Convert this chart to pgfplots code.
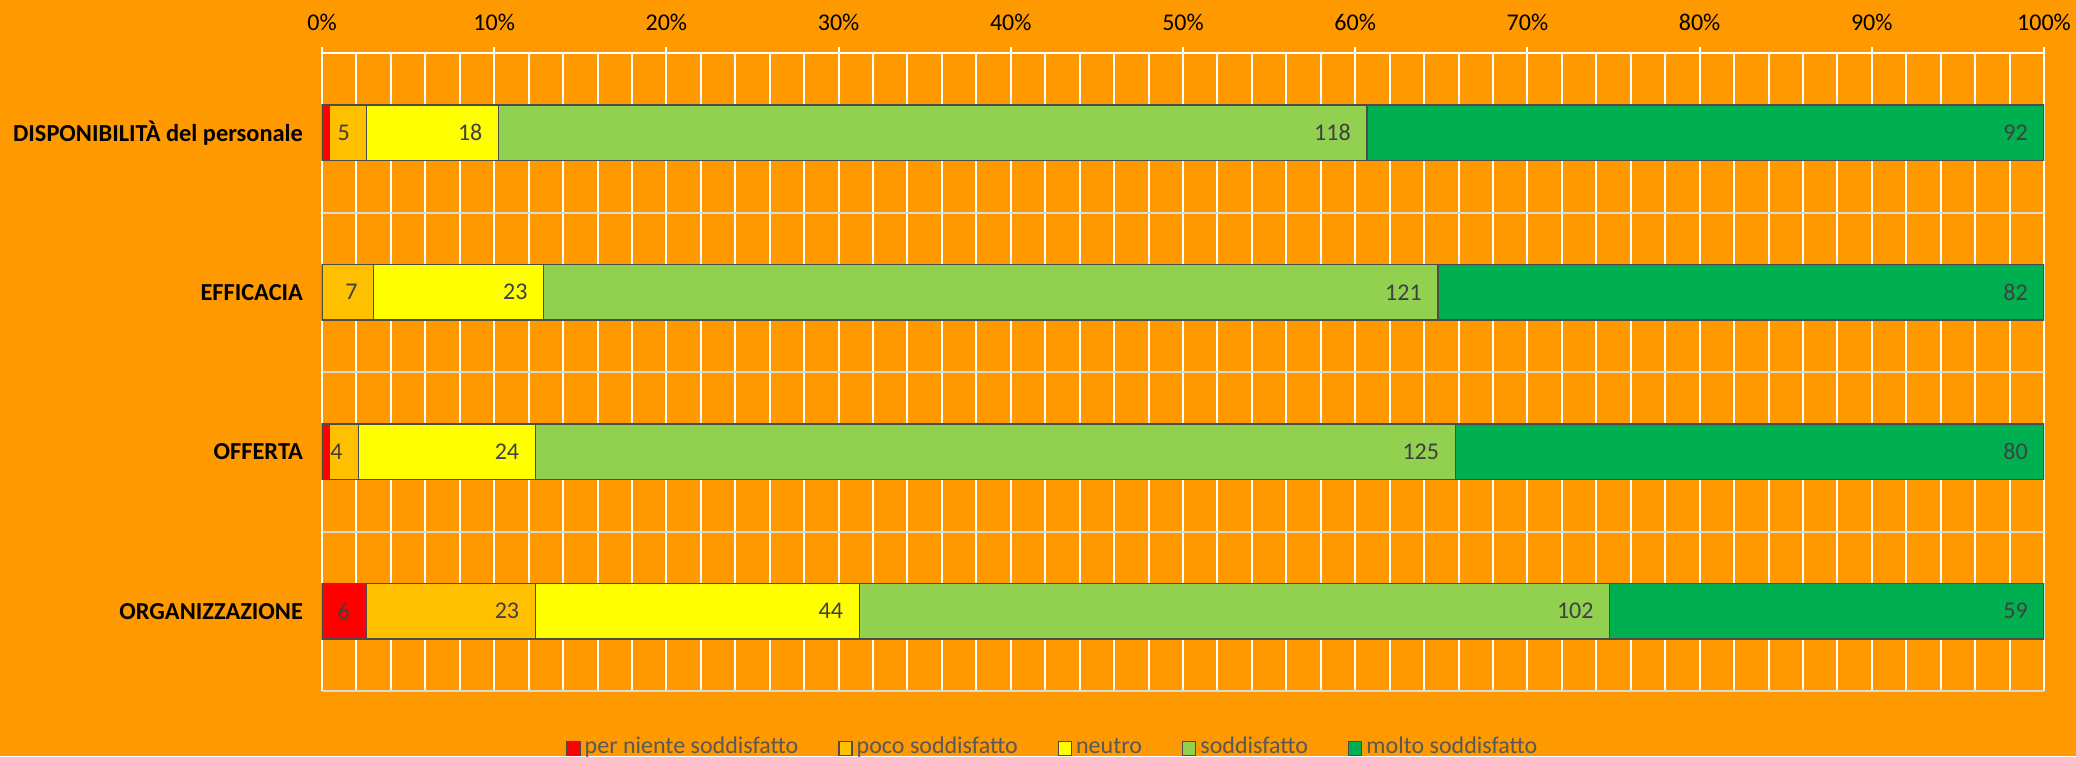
\documentclass[border=0pt]{standalone}
\usepackage{pgfplots}
\pgfplotsset{compat=1.18}
\usepackage{pgfplotstable}
\usepackage{fontspec}
\setmainfont{Carlito}
\definecolor{bg}{HTML}{FF9900}
\definecolor{cRed}{HTML}{FF0000}
\definecolor{cPoco}{HTML}{FFC000}
\definecolor{cNeu}{HTML}{FFFF00}
\definecolor{cSod}{HTML}{92D050}
\definecolor{cMolto}{HTML}{00B050}
\definecolor{lbl}{HTML}{404040}
\definecolor{leg}{HTML}{595959}
\definecolor{hgrid}{HTML}{D9D9D9}

% counts per category: r = per niente, p = poco, n = neutro, s = soddisfatto, m = molto
\pgfplotstableread{
y r p n s m tot rl
0 1 5 18 118 92 234 {}
1 0 7 23 121 82 233 {}
2 1 4 24 125 80 234 {}
3 6 23 44 102 59 234 6
}\data

\begin{document}
\begin{tikzpicture}
\fill[bg] (0,0) rectangle (1038pt,378pt);
\useasboundingbox (0,0) rectangle (1038pt,378pt);
\begin{axis}[
  at={(161pt,32.5pt)}, anchor=south west,
  width=861pt, height=319pt, scale only axis,
  xbar, bar width=27.8pt,
  xmin=0, xmax=100,
  ymin=-0.5, ymax=3.5, y dir=reverse,
  axis x line*=top, axis y line*=left,
  x axis line style={white, line width=1pt, -},
  y axis line style={draw=none},
  /pgf/number format/assume math mode=true,
  xtick={0,10,...,100},
  minor xtick={2,4,6,8,12,14,16,18,22,24,26,28,32,34,36,38,42,44,46,48,52,54,56,58,62,64,66,68,72,74,76,78,82,84,86,88,92,94,96,98},
  xticklabel={\pgfmathprintnumber{\tick}\%},
  xticklabel style={font=\fontsize{12}{14}\selectfont, text=black, yshift=4.5pt},
  x tick style={white, line width=1pt},
  tick align=outside, major tick length=3pt, minor tick length=0pt,
  xmajorgrids, xminorgrids,
  x grid style={white, line width=1pt},
  ytick={0,1,2,3},
  yticklabels={DISPONIBILITÀ del personale, EFFICACIA, OFFERTA, ORGANIZZAZIONE},
  yticklabel style={font=\fontsize{12.2}{14}\selectfont\bfseries, text=black, xshift=-3pt},
  y tick style={draw=none},
  minor ytick={-0.5,0.5,1.5,2.5,3.5},
  yminorgrids,
  y grid style={hgrid, line width=1pt},
  point meta=explicit symbolic,
  nodes near coords,
  nodes near coords style={anchor=east, xshift=-4.5pt, text=lbl, font=\fontsize{12}{14}\selectfont},
  every axis plot/.append style={draw=black!70, line width=0.6pt, bar shift=0pt},
  legend columns=5,
  reverse legend,
  legend style={at={(0.425,-0.09)}, anchor=center, draw=none, fill=none,
    font=\fontsize{12}{14}\selectfont, text=leg,
    nodes={text height=0.68em, text depth=0.2em},
    /tikz/every even column/.append style={column sep=18pt},
    /tikz/every odd column/.append style={column sep=0pt},
    inner sep=0pt},
  legend cell align=left,
  legend image code/.code={\draw[#1, line width=0.7pt] (0pt,-3.5pt) rectangle (6.5pt,3.5pt);},
]
\addplot[fill=cMolto] table[x expr=(\thisrow{r}+\thisrow{p}+\thisrow{n}+\thisrow{s}+\thisrow{m})/\thisrow{tot}*100, y=y, meta=m] {\data};
\addplot[fill=cSod] table[x expr=(\thisrow{r}+\thisrow{p}+\thisrow{n}+\thisrow{s})/\thisrow{tot}*100, y=y, meta=s] {\data};
\addplot[fill=cNeu] table[x expr=(\thisrow{r}+\thisrow{p}+\thisrow{n})/\thisrow{tot}*100, y=y, meta=n] {\data};
\addplot[fill=cPoco] table[x expr=(\thisrow{r}+\thisrow{p})/\thisrow{tot}*100, y=y, meta=p] {\data};
\addplot[fill=cRed] table[x expr=\thisrow{r}/\thisrow{tot}*100, y=y, meta=rl] {\data};
\legend{molto soddisfatto, soddisfatto, neutro, poco soddisfatto, per niente soddisfatto}
\end{axis}
\end{tikzpicture}
\end{document}
